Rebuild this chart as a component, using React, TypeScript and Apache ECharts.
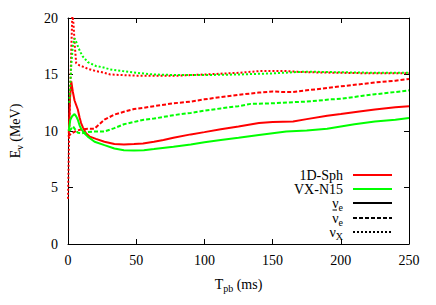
import React, { useEffect, useRef } from "react";
import * as echarts from "echarts";

// Time (ms) and mean energy (MeV) samples
const tSphNue = [0.6, 1.5, 2.4, 3.5, 4.8, 6, 7.2, 8.5, 9.6, 11, 13.2, 16, 20.5, 26.7, 34, 41, 48.4, 55, 63, 70, 77.3, 90, 100, 112, 125, 140, 150, 165, 175, 190, 200, 215, 225, 240, 250];
const eSphNue = [9.8, 13.0, 14.4, 13.5, 12.7, 12.3, 11.9, 11.2, 10.7, 10.3, 9.8, 9.5, 9.3, 9.05, 8.85, 8.8, 8.85, 8.9, 9.05, 9.2, 9.4, 9.7, 9.9, 10.15, 10.4, 10.7, 10.8, 10.85, 11.05, 11.35, 11.5, 11.75, 11.9, 12.1, 12.2];

const tSphNuebar = [0, 1.2, 3, 5, 8.4, 14.5, 19.5, 23, 26.7, 34, 41, 48.4, 55.6, 63, 77.3, 90, 100, 112, 125, 140, 150, 158, 165, 175, 190, 200, 215, 225, 240, 250];
const eSphNuebar = [9.5, 9.65, 9.8, 9.95, 10.1, 10.2, 10.2, 10.6, 11.0, 11.45, 11.7, 11.95, 12.05, 12.2, 12.45, 12.6, 12.8, 13.0, 13.2, 13.4, 13.5, 13.45, 13.45, 13.6, 13.8, 13.95, 14.15, 14.3, 14.45, 14.6];

const tSphNux = [0, 0.8, 1.7, 2.6, 3.2, 4, 5, 6, 7, 8.5, 10.8, 14.7, 20.5, 25, 31, 40, 50, 63, 80, 100, 125, 140, 150, 160, 175, 200, 225, 250];
const eSphNux = [4.0, 9.5, 14.0, 18.0, 20.5, 19.5, 17.5, 16.0, 15.9, 15.8, 15.7, 15.5, 15.3, 15.2, 15.0, 14.95, 14.9, 14.9, 14.9, 15.0, 15.15, 15.3, 15.3, 15.3, 15.2, 15.15, 15.1, 15.1];

const tVxNue = [0.5, 1.7, 3, 4.8, 6, 7.2, 8.5, 9.6, 12, 14.5, 19.5, 26.7, 34, 41, 48.4, 55.6, 63, 77.3, 90, 100, 112, 125, 140, 150, 160, 175, 190, 200, 210, 225, 240, 250];
const eVxNue = [10.0, 11.0, 11.3, 11.5, 11.3, 11.0, 10.5, 10.2, 9.8, 9.5, 9.05, 8.75, 8.45, 8.3, 8.28, 8.3, 8.4, 8.6, 8.8, 9.0, 9.2, 9.4, 9.65, 9.8, 9.95, 10.05, 10.2, 10.4, 10.6, 10.85, 11.0, 11.15];

const tVxNuebar = [1, 3.7, 5.5, 7.2, 10, 14.5, 19.5, 26.7, 34, 41, 48.4, 55.6, 63, 77.3, 90, 100, 112, 125, 134, 150, 165, 175, 193, 200, 215, 225, 240, 250];
const eVxNuebar = [10.0, 10.4, 10.1, 9.85, 9.8, 9.9, 9.95, 9.95, 10.25, 10.6, 10.8, 11.0, 11.1, 11.4, 11.6, 11.8, 12.0, 12.2, 12.4, 12.45, 12.55, 12.6, 12.8, 12.85, 13.1, 13.25, 13.45, 13.6];

const tVxNux = [1, 2.5, 3.5, 4.8, 6, 7.2, 9, 10.8, 14.5, 20.5, 25, 31, 40, 50, 63, 80, 100, 125, 150, 165, 175, 200, 225, 250];
const eVxNux = [12.5, 16.0, 17.5, 18.2, 17.9, 17.5, 17.0, 16.6, 16.1, 15.75, 15.65, 15.45, 15.3, 15.15, 15.0, 14.95, 14.95, 15.0, 15.1, 15.2, 15.25, 15.2, 15.15, 15.15];

const xTicks = [0, 50, 100, 150, 200, 250];
const yTicks = [0, 5, 10, 15, 20];

const modelNames = ["1D-Sph", "VX-N15"];
const flavourNames = ["{n|ν}{s|e}", "{n|ν}{s|e}", "{n|ν}{s|X}"];

const RED = "#ff0000";
const GREEN = "#00ff00";
const FONT = "'Liberation Serif', 'Times New Roman', serif";
const DASH = [4, 2];
const DOT = [2, 2];

const zip = (t: number[], e: number[]) => t.map((v, i) => [v, e[i]]);

export default function App() {
  const ref = useRef<HTMLDivElement>(null);
  useEffect(() => {
    if (!ref.current) return;
    const chart = echarts.init(ref.current, null, { renderer: "svg" });

    const mk = (name: string, t: number[], e: number[], color: string, type: any) => ({
      name,
      type: "line",
      data: zip(t, e),
      showSymbol: false,
      symbol: "none",
      smooth: false,
      clip: true,
      lineStyle: { color, width: 2, type },
      xAxisIndex: 0,
      yAxisIndex: 0,
    });

    const rich = {
      n: { fontFamily: FONT, fontSize: 14, color: "#000" },
      s: { fontFamily: FONT, fontSize: 10, color: "#000", padding: [8, 0, 0, 0] },
    };

    const legendRight = 343;
    const lineX1 = 353;
    const lineX2 = 392;
    const rowY = [175, 189, 203, 218, 232];
    const legendItems = [
      { text: "{n|" + modelNames[0] + "}", color: RED, type: "solid" },
      { text: "{n|" + modelNames[1] + "}", color: GREEN, type: "solid" },
      { text: flavourNames[0], color: "#000", type: "solid" },
      { text: flavourNames[1], color: "#000", type: DASH },
      { text: flavourNames[2], color: "#000", type: DOT },
    ];
    const graphics: any[] = [];
    legendItems.forEach((it, i) => {
      graphics.push({
        type: "text",
        x: legendRight,
        y: rowY[i],
        style: { text: it.text, rich, align: "right", verticalAlign: "middle", fontFamily: FONT, fontSize: 14 },
      });
      graphics.push({
        type: "line",
        shape: { x1: lineX1, y1: rowY[i], x2: lineX2, y2: rowY[i] },
        style: { stroke: it.color, lineWidth: 2, lineDash: it.type === "solid" ? null : it.type },
      });
    });
    // overbar of the anti-neutrino symbol
    graphics.push({
      type: "line",
      shape: { x1: 332.5, y1: rowY[3] - 8, x2: 337, y2: rowY[3] - 8 },
      style: { stroke: "#000", lineWidth: 1 },
    });

    const tickCommon = { show: true, inside: true, length: 5, lineStyle: { color: "#000", width: 1 } };

    chart.setOption({
      animation: false,
      backgroundColor: "#fff",
      textStyle: { fontFamily: FONT },
      grid: { left: 63, right: 27, top: 18, bottom: 61, containLabel: false },
      xAxis: [
        {
          type: "value",
          min: 0,
          max: 250,
          interval: 50,
          axisLine: { show: true, onZero: false, lineStyle: { color: "#000", width: 1 } },
          axisTick: tickCommon,
          splitLine: { show: false },
          axisLabel: {
            fontFamily: FONT,
            fontSize: 14,
            color: "#000",
            margin: 9,
            formatter: (v: number) => (xTicks.includes(v) ? String(v) : ""),
          },
          name: "{n|T}{s|pb}{n| (ms)}",
          nameLocation: "middle",
          nameGap: 31,
          nameTextStyle: { rich },
        },
        {
          type: "value",
          position: "top",
          min: 0,
          max: 250,
          interval: 50,
          axisLine: { show: true, onZero: false, lineStyle: { color: "#000", width: 1 } },
          axisTick: tickCommon,
          axisLabel: { show: false },
          splitLine: { show: false },
        },
      ],
      yAxis: [
        {
          type: "value",
          min: 0,
          max: 20,
          interval: 5,
          axisLine: { show: true, onZero: false, lineStyle: { color: "#000", width: 1 } },
          axisTick: tickCommon,
          splitLine: { show: false },
          axisLabel: {
            fontFamily: FONT,
            fontSize: 14,
            color: "#000",
            margin: 10,
            formatter: (v: number) => (yTicks.includes(v) ? String(v) : ""),
          },
          name: "{n|E}{s|ν}{n| (MeV)}",
          nameLocation: "middle",
          nameGap: 44,
          nameRotate: 90,
          nameTextStyle: { rich },
        },
        {
          type: "value",
          position: "right",
          min: 0,
          max: 20,
          interval: 5,
          axisLine: { show: true, onZero: false, lineStyle: { color: "#000", width: 1 } },
          axisTick: tickCommon,
          axisLabel: { show: false },
          splitLine: { show: false },
        },
      ],
      series: [
        mk("1D-Sph νe", tSphNue, eSphNue, RED, "solid"),
        mk("1D-Sph anti-νe", tSphNuebar, eSphNuebar, RED, DASH),
        mk("1D-Sph νx", tSphNux, eSphNux, RED, DOT),
        mk("VX-N15 νe", tVxNue, eVxNue, GREEN, "solid"),
        mk("VX-N15 anti-νe", tVxNuebar, eVxNuebar, GREEN, DASH),
        mk("VX-N15 νx", tVxNux, eVxNux, GREEN, DOT),
      ],
      graphic: graphics,
    });
    return () => chart.dispose();
  }, []);
  return <div ref={ref} style={{ position: "fixed", left: 0, top: 0, width: 436, height: 305 }} />;
}
